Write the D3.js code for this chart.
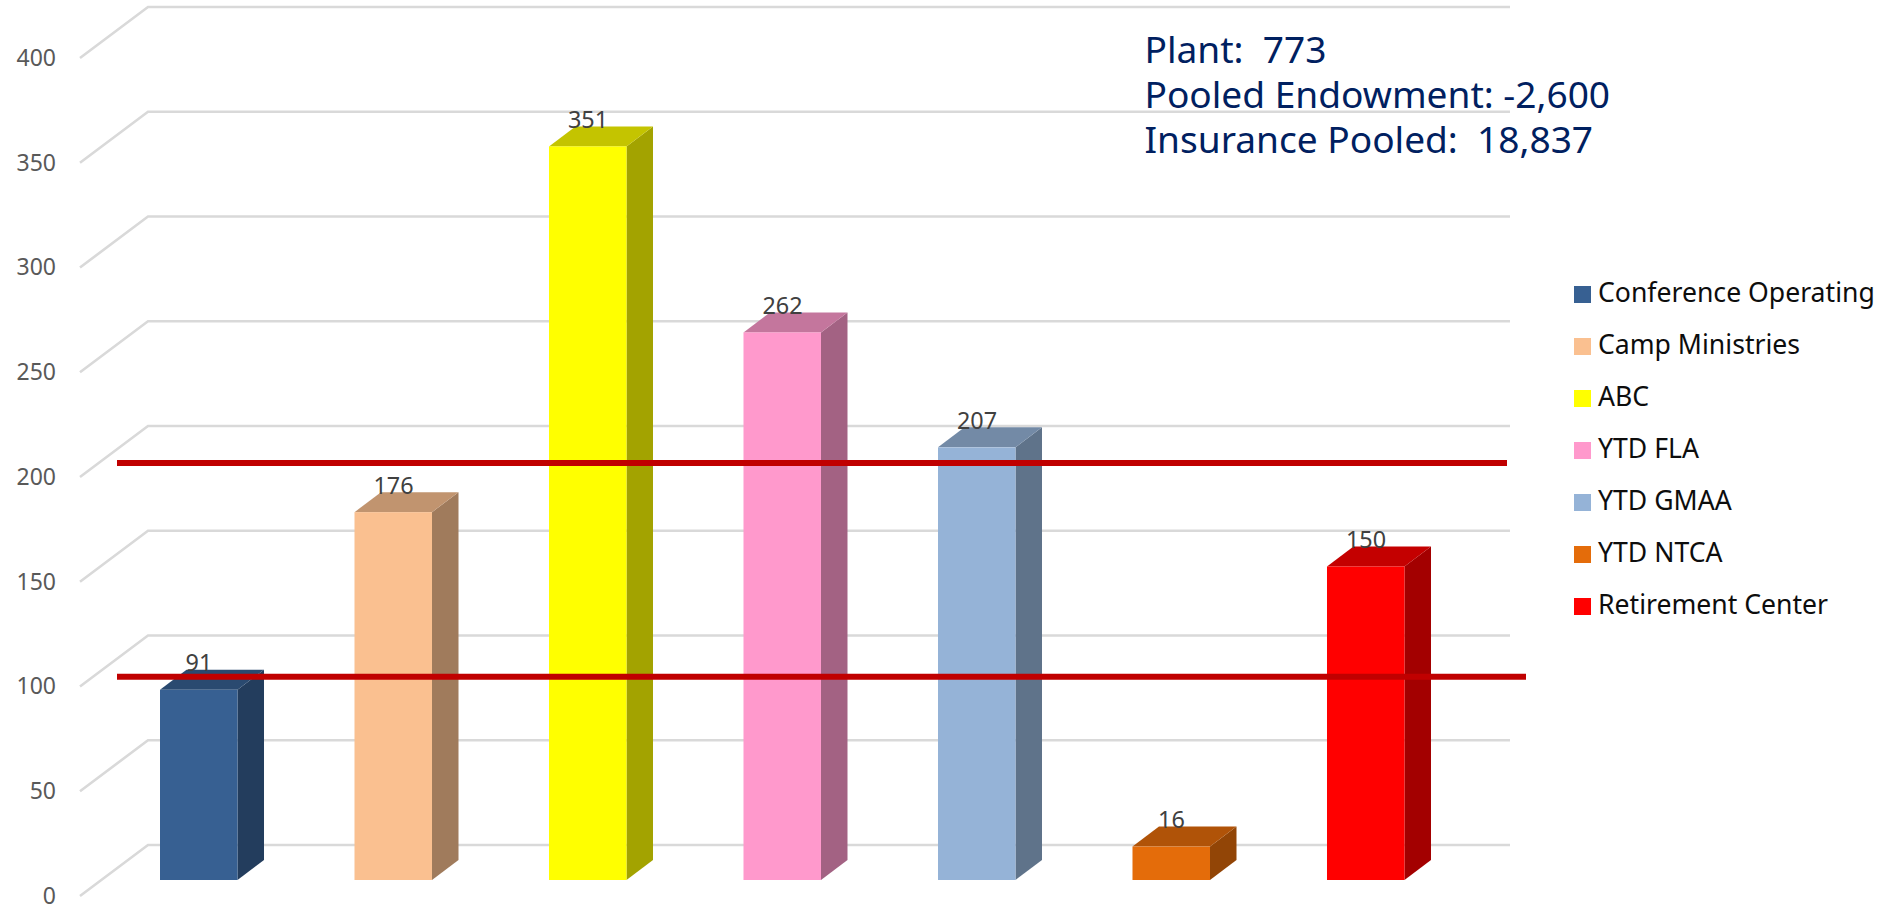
<!DOCTYPE html>
<html>
<head>
<meta charset="utf-8">
<script src="https://cdn.jsdelivr.net/npm/d3@7"></script>
<style>
  html, body { margin: 0; padding: 0; background: #fff; }
  text { font-family: "Noto Sans", sans-serif; }
</style>
</head>
<body>
<svg id="chart" width="1883" height="907"></svg>
<script>
// chart data
const categories = ['Conference Operating', 'Camp Ministries', 'ABC', 'YTD FLA', 'YTD GMAA', 'YTD NTCA', 'Retirement Center'];
const values = [91, 176, 351, 262, 207, 16, 150];
const colors = ['#376092', '#FAC090', '#FFFF00', '#FF99CC', '#95B3D7', '#E46C0A', '#FF0000'];
const yTicks = [0, 50, 100, 150, 200, 250, 300, 350, 400];
const refValues = [199.5, 97.3];
const refEnds = [1507, 1526];
const notes = ['Plant:  773', 'Pooled Endowment: -2,600', 'Insurance Pooled:  18,837'];

const svg = d3.select('#chart');

// front edge of the floor/wall, the back wall is offset from it
const y = d3.scaleLinear().domain([0, 400]).range([896, 58]);
const wallDx = 68, wallDy = -51, wallRight = 1510;
// bars stand a bit behind the front edge so they get their own scale
const barY = d3.scaleLinear().domain([0, 400]).range([880, 44]);
const depthX = 26.5, depthY = -20;

const x = d3.scaleBand()
  .domain(categories)
  .range([160, 1404.5])
  .paddingInner(0.6015)
  .paddingOuter(0);

// gridlines
const grid = d3.line();
svg.append('g')
  .selectAll('path')
  .data(yTicks)
  .enter()
  .append('path')
  .attr('d', (d) => grid([[80, y(d)], [80 + wallDx, y(d) + wallDy], [wallRight, y(d) + wallDy]]))
  .attr('fill', 'none')
  .attr('stroke', '#D9D9D9')
  .attr('stroke-width', 2.6);

// y axis labels
const axis = svg.append('g')
  .attr('transform', 'translate(60,0)')
  .call(d3.axisLeft(y).tickValues(yTicks).tickSize(0).tickPadding(4).tickFormat(d3.format('d')));
axis.select('.domain').remove();
axis.selectAll('text')
  .style('font-family', '"Noto Sans", sans-serif')
  .style('font-size', '23px')
  .attr('fill', '#595959');

// 3d bars
const bars = svg.append('g')
  .selectAll('g')
  .data(categories)
  .enter()
  .append('g');

const shade = (c, k) => {
  const rgb = d3.rgb(c);
  return d3.rgb(rgb.r * k, rgb.g * k, rgb.b * k).formatHex();
};
const barTop = (i) => barY(values[i]);
const barBase = barY(0);

bars.append('path') // side
  .attr('d', (d, i) => {
    const r = x(d) + x.bandwidth();
    return `M${r},${barTop(i)}L${r + depthX},${barTop(i) + depthY}L${r + depthX},${barBase + depthY}L${r},${barBase}Z`;
  })
  .attr('fill', (d, i) => shade(colors[i], 0.64));

bars.append('path') // top
  .attr('d', (d, i) => {
    const l = x(d), r = l + x.bandwidth(), t = barTop(i);
    return `M${l},${t}L${l + depthX},${t + depthY}L${r + depthX},${t + depthY}L${r},${t}Z`;
  })
  .attr('fill', (d, i) => shade(colors[i], 0.77));

bars.append('rect') // front
  .attr('x', (d) => x(d))
  .attr('y', (d, i) => barTop(i))
  .attr('width', x.bandwidth())
  .attr('height', (d, i) => barBase - barTop(i))
  .attr('fill', (d, i) => colors[i]);

bars.append('text')
  .attr('x', (d) => x(d) + 39)
  .attr('y', (d, i) => barTop(i) - 18.5)
  .attr('text-anchor', 'middle')
  .attr('font-size', 23.4)
  .attr('fill', '#404040')
  .text((d, i) => values[i]);

// red reference lines
svg.append('g')
  .selectAll('line')
  .data(refValues)
  .enter()
  .append('line')
  .attr('x1', 117)
  .attr('x2', (d, i) => refEnds[i])
  .attr('y1', (d) => barY(d))
  .attr('y2', (d) => barY(d))
  .attr('stroke', '#C00000')
  .attr('stroke-width', 6);

// note in the corner
svg.append('g')
  .selectAll('text')
  .data(notes)
  .enter()
  .append('text')
  .attr('x', 1144.5)
  .attr('y', (d, i) => 63 + i * 45)
  .attr('font-size', 37.1)
  .attr('fill', '#002060')
  .style('white-space', 'pre')
  .text((d) => d);

// legend
const legend = svg.append('g')
  .selectAll('g')
  .data(categories)
  .enter()
  .append('g')
  .attr('transform', (d, i) => `translate(1574,${286 + i * 52})`);

legend.append('rect')
  .attr('width', 17)
  .attr('height', 17)
  .attr('fill', (d, i) => colors[i]);

legend.append('text')
  .attr('x', 24)
  .attr('y', 15.5)
  .attr('font-size', 26.6)
  .attr('fill', '#0d0d0d')
  .text((d) => d);
</script>
</body>
</html>
